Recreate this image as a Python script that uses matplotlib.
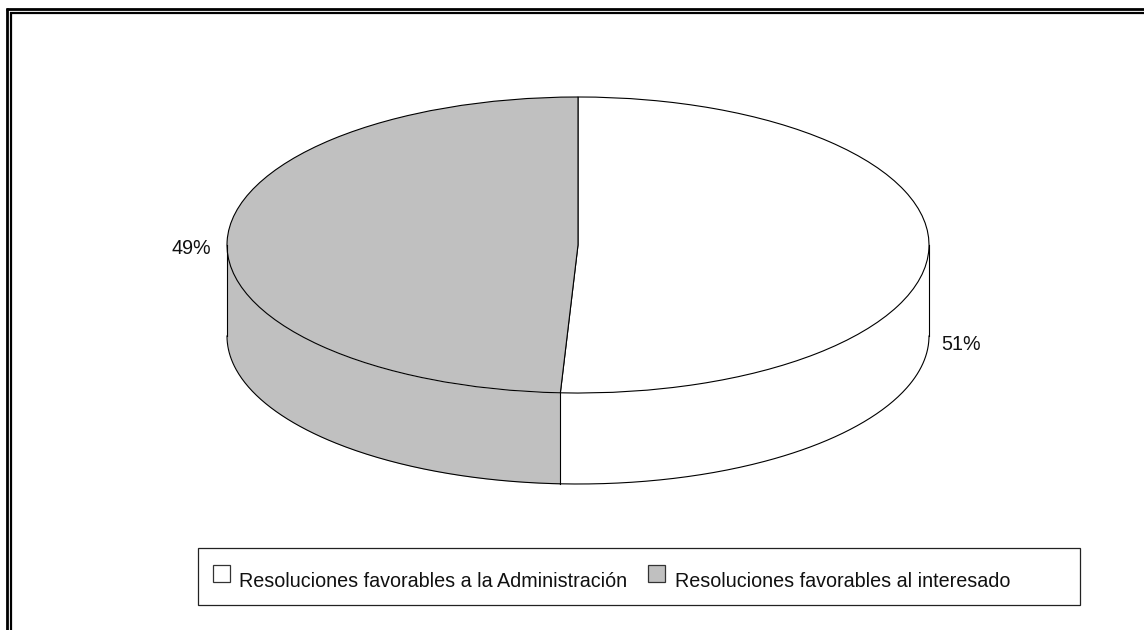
import numpy as np
import matplotlib
matplotlib.use("Agg")
import matplotlib.pyplot as plt
from matplotlib.patches import Rectangle

plt.rcParams["font.family"] = ["Liberation Sans", "DejaVu Sans"]

# datos
categories = ["Resoluciones favorables a la Administración", "Resoluciones favorables al interesado"]
values = [50.8, 49.2]  # el corte de la figura queda algo antes del 51 exacto
pct_labels = ["51%", "49%"]
colors = ["#FFFFFF", "#C0C0C0"]

W, H = 1144, 630
fig = plt.figure(figsize=(W / 100, H / 100), dpi=100, facecolor="white")

# capa de fondo en pixeles (marco, leyenda, etiquetas)
bg = fig.add_axes([0, 0, 1, 1])
bg.set_xlim(0, W)
bg.set_ylim(H, 0)
bg.axis("off")

# marco doble: solo arriba e izquierda
bg.plot([6, W], [9, 9], color="black", lw=2.0, solid_capstyle="butt")
bg.plot([7, 7], [8, H], color="black", lw=2.0, solid_capstyle="butt")
bg.plot([10, W], [13, 13], color="black", lw=1.6, solid_capstyle="butt")
bg.plot([10.5, 10.5], [12, H], color="black", lw=1.6, solid_capstyle="butt")

# tarta: la elipse sale de un pie normal en ejes sin aspecto igual
cx, cy, rx, ry, depth = 578, 245, 351, 148, 91
d = depth / ry
ax = fig.add_axes([(cx - rx) / W, 1 - (cy + ry + depth) / H, 2 * rx / W, (2 * ry + depth) / H])
ax.pie(values, colors=colors, startangle=90, counterclock=False, radius=1,
       wedgeprops=dict(edgecolor="black", linewidth=0.8, clip_on=False))
ax.set_aspect("auto")
ax.set_xlim(-1, 1)
ax.set_ylim(-1 - d, 1)
ax.axis("off")

# pared lateral
split = 90 - 360 * values[0] / sum(values)  # angulo de corte, frente de la tarta
th_white = np.radians(np.linspace(split, 0, 200))
th_grey = np.radians(np.linspace(180, 360 + split, 200))
for th, c in [(th_white, colors[0]), (th_grey, colors[1])]:
    x = np.cos(th)
    y = np.sin(th)
    ax.fill_between(x, y - d, y, color=c, lw=0, zorder=0.5)
    ax.plot(x, y - d, color="black", lw=0.8, zorder=3, clip_on=False)
xs = np.cos(np.radians(split))
ys = np.sin(np.radians(split))
for xv, yv in [(-1, 0), (1, 0), (xs, ys)]:
    ax.plot([xv, xv], [yv, yv - d], color="black", lw=0.8, zorder=3, clip_on=False)

# etiquetas de porcentaje
fs = 14.2
bg.text(941, 350, pct_labels[0], fontsize=fs, ha="left", va="baseline", color="#111111")
bg.text(172, 254, pct_labels[1], fontsize=fs, ha="left", va="baseline", color="#111111")

# leyenda
bg.add_patch(Rectangle((198, 548), 882, 57, fc="white", ec="#222222", lw=0.9))
bg.add_patch(Rectangle((213, 565), 17, 17, fc=colors[0], ec="#333333", lw=0.9))
bg.add_patch(Rectangle((648, 565), 17, 17, fc=colors[1], ec="#333333", lw=0.9))
bg.text(239, 587, categories[0], fontsize=fs, ha="left", va="baseline", color="#111111")
bg.text(675, 587, categories[1], fontsize=fs, ha="left", va="baseline", color="#111111")

fig.savefig("out.png", dpi=100)
